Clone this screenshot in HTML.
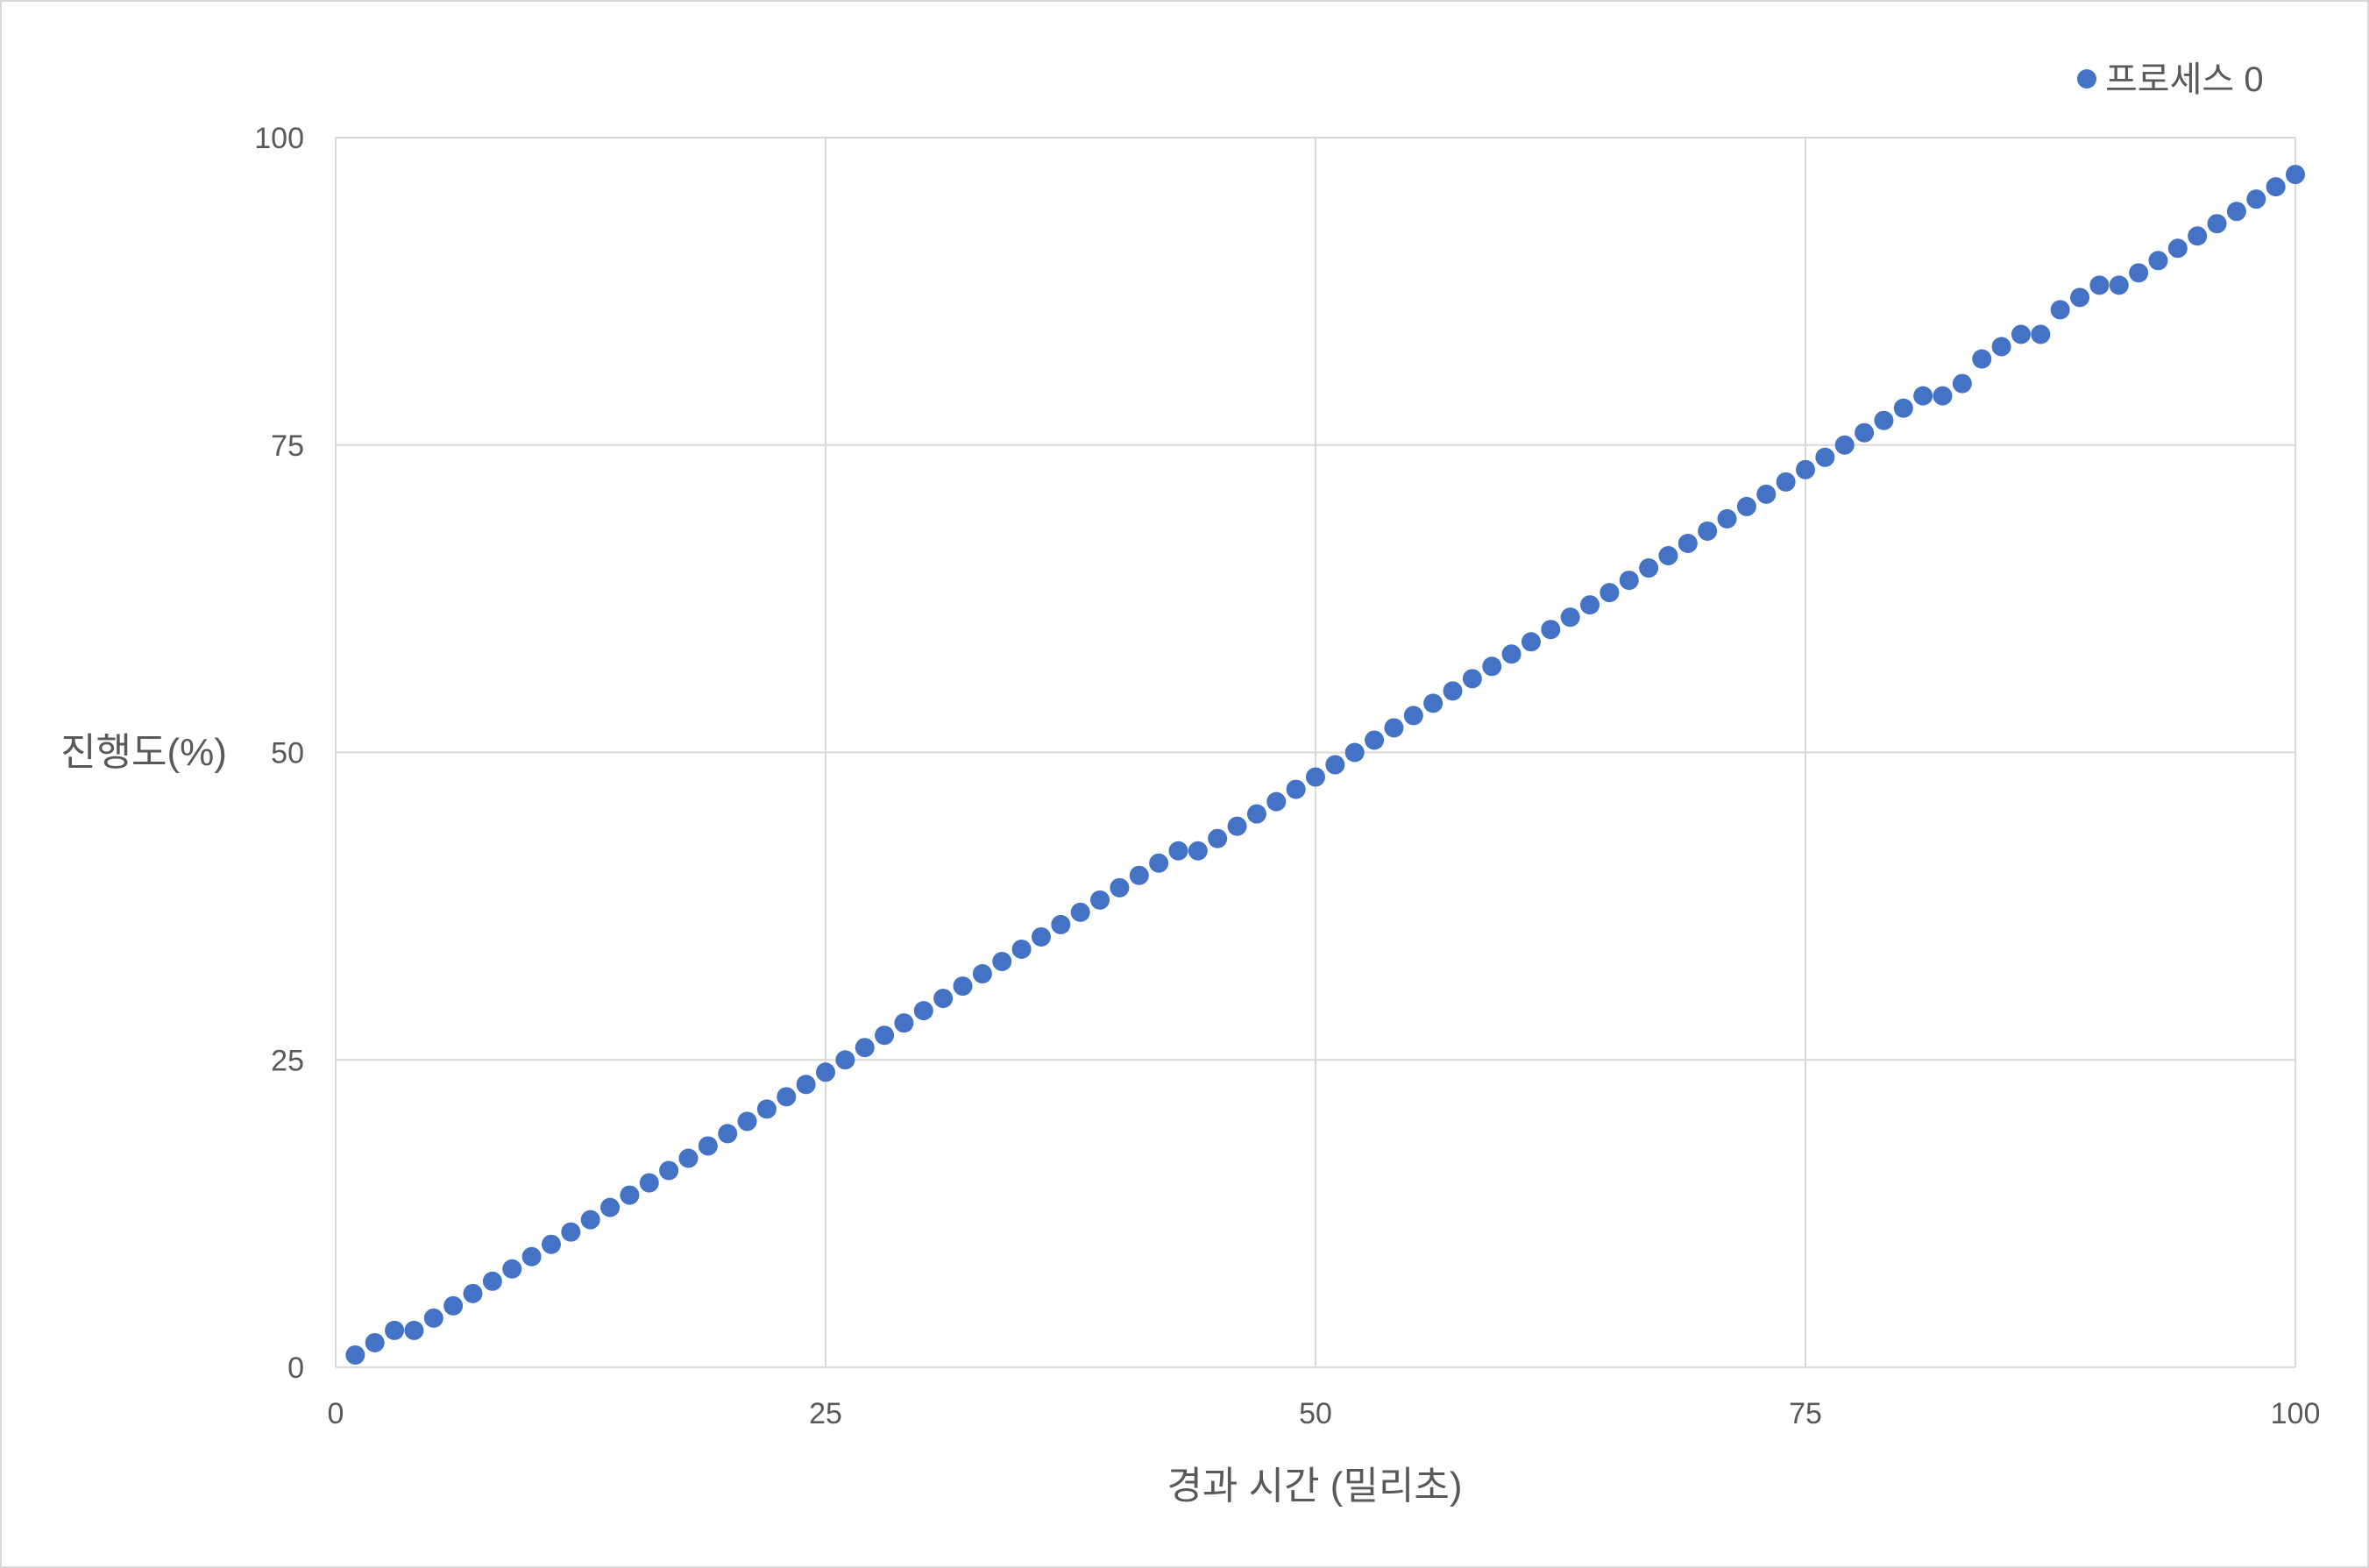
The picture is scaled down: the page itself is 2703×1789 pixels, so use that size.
<!DOCTYPE html>
<html><head><meta charset="utf-8"><style>
body{margin:0;background:#fff}
svg{display:block}
text{font-family:"Liberation Sans","Noto Sans CJK KR",sans-serif;fill:#595959}
</style></head><body>
<svg id="c" width="2703" height="1789">
<rect x="1" y="1" width="2701" height="1787" fill="#fff" stroke="#d9d9d9" stroke-width="2"/>
<g id="grid"></g><g id="pts"></g>
<g>
<circle cx="2381" cy="90" r="11" fill="#4472c4"/>
<text x="2402" y="104" font-size="40">프로세스 0</text>
</g>
<text x="164" y="873" font-size="44" text-anchor="middle">진행도(%)</text>
<text x="1500" y="1710" font-size="44" text-anchor="middle">경과 시간 (밀리초)</text>
</svg>
<script>
const xTicks=[0,25,50,75,100];
const yTicks=[0,25,50,75,100];
const xs=[];for(let i=1;i<=100;i++)xs.push(i);
const ys=[1,2,3,3,4,5,6,7,8,9,10,11,12,13,14,15,16,17,18,19,20,21,22,23,24,25,26,27,28,29,30,31,32,33,34,35,36,37,38,39,40,41,42,42,43,44,45,46,47,48,49,50,51,52,53,54,55,56,57,58,59,60,61,62,63,64,65,66,67,68,69,70,71,72,73,74,75,76,77,78,79,79,80,82,83,84,84,86,87,88,88,89,90,91,92,93,94,95,96,97];
const L=383,R=2619,T=157,B=1560;
const sx=v=>L+(R-L)*v/100, sy=v=>B-(B-T)*v/100;
const NS="http://www.w3.org/2000/svg";
const g=document.getElementById('grid'),p=document.getElementById('pts');
function mk(t,a,par){const e=document.createElementNS(NS,t);for(const k in a)e.setAttribute(k,a[k]);par.appendChild(e);return e;}
xTicks.forEach(v=>{
const l=mk('line',{x1:sx(v),x2:sx(v),y1:T,y2:B,stroke:'#d9d9d9','stroke-width':2},g);


const t=mk('text',{x:sx(v),y:B+64,'font-size':34,'text-anchor':'middle'},g);t.textContent=v;


});
yTicks.forEach(v=>{
const l=mk('line',{x1:L,x2:R,y1:sy(v),y2:sy(v),stroke:'#d9d9d9','stroke-width':2},g);


const t=mk('text',{x:L-36,y:sy(v)+12,'font-size':34,'text-anchor':'end'},g);t.textContent=v;


});
xs.forEach((x,i)=>{
const c=mk('circle',{cx:sx(x),cy:sy(ys[i]),r:11,fill:'#4472c4'},p);


});
</script>
</body></html>
